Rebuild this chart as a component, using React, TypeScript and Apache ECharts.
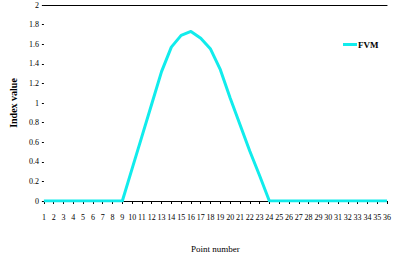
import React, { useEffect, useRef } from "react";
import * as echarts from "echarts";

const categories: string[] = Array.from({ length: 36 }, (_, i) => String(i + 1));
const fvmValues: number[] = [
  0, 0, 0, 0, 0, 0, 0, 0, 0,
  0.33, 0.66, 0.99, 1.32, 1.57, 1.69, 1.73, 1.66, 1.55, 1.34, 1.05, 0.78, 0.51, 0.26,
  0, 0, 0, 0, 0, 0, 0, 0, 0, 0, 0, 0, 0,
];
const seriesName = "FVM";
const xName = "Point number";
const yName = "Index value";

export default function App() {
  const ref = useRef<HTMLDivElement>(null);
  useEffect(() => {
    const chart = echarts.init(ref.current!, null, { renderer: "svg" });
    const font = "Liberation Serif";
    chart.setOption({
      animation: false,
      backgroundColor: "#ffffff",
      grid: { left: 32, right: 6, top: 5, bottom: 53, containLabel: false },
      legend: {
        data: [{ name: seriesName, icon: "rect" }],
        left: 338,
        top: 35,
        itemWidth: 14,
        itemHeight: 3,
        itemGap: 2,
        textStyle: { fontFamily: font, fontSize: 9, fontWeight: "bold", color: "#000", padding: [0, 0, 0, -4] },
      },
      xAxis: [
        {
          type: "category",
          data: categories,
          boundaryGap: false,
          name: xName,
          nameLocation: "middle",
          nameGap: 43,
          nameTextStyle: { fontFamily: font, fontSize: 9, color: "#000" },
          axisLine: { show: true, lineStyle: { color: "#000", width: 1 } },
          axisTick: { show: true, length: 3, interval: 0, lineStyle: { color: "#000" } },
          axisLabel: { interval: 0, fontFamily: font, fontSize: 8, color: "#000", margin: 12 },
        },
        {
          type: "category",
          data: categories,
          boundaryGap: false,
          position: "top",
          axisLine: { show: true, lineStyle: { color: "#000", width: 1.2 } },
          axisTick: { show: false },
          axisLabel: { show: false },
        },
      ],
      yAxis: {
        type: "value",
        min: 0,
        max: 2,
        interval: 0.2,
        name: yName,
        nameLocation: "middle",
        nameGap: 25,
        nameRotate: 90,
        nameTextStyle: { fontFamily: font, fontSize: 10, fontWeight: "bold", color: "#000" },
        axisLine: { show: false },
        axisTick: { show: true, length: 2, lineStyle: { color: "#000" } },
        splitLine: { show: false },
        axisLabel: {
          fontFamily: font,
          fontSize: 8,
          color: "#000",
          margin: 5,
          formatter: (v: number) => String(Math.round(v * 10) / 10),
        },
      },
      series: [
        {
          name: seriesName,
          type: "line",
          data: fvmValues,
          smooth: false,
          symbol: "none",
          lineStyle: { color: "#11ecec", width: 3, join: "round" },
          itemStyle: { color: "#11ecec" },
        },
      ],
    });
    return () => chart.dispose();
  }, []);
  return (
    <div
      ref={ref}
      style={{ position: "fixed", left: 0, top: 0, width: 394, height: 258 }}
    />
  );
}
